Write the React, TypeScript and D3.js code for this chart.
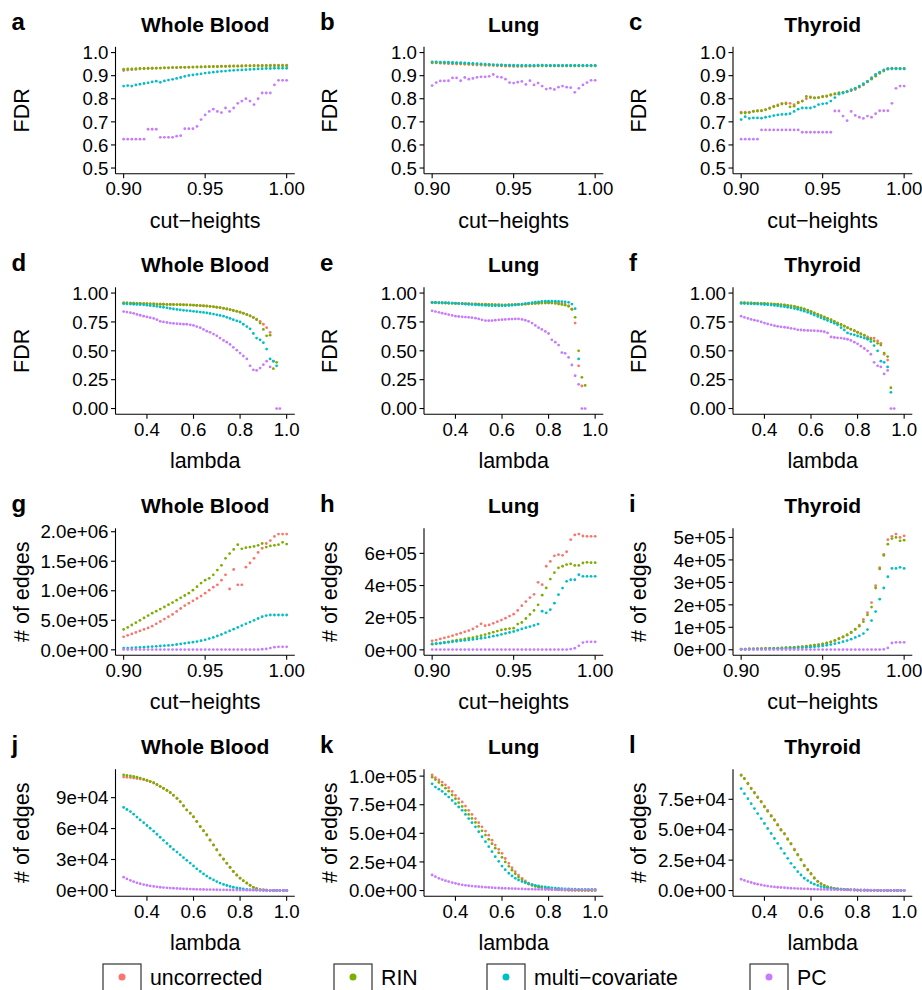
import React from "react";
import * as d3 from "d3";

// x grids
const cutHeights = [0.9, 0.9025, 0.905, 0.9075, 0.91, 0.9125, 0.915, 0.9175, 0.92, 0.9225, 0.925, 0.9275, 0.93, 0.9325, 0.935, 0.9375, 0.94, 0.9425, 0.945, 0.9475, 0.95, 0.9525, 0.955, 0.9575, 0.96, 0.9625, 0.965, 0.9675, 0.97, 0.9725, 0.975, 0.9775, 0.98, 0.9825, 0.985, 0.9875, 0.99, 0.9925, 0.995, 0.9975, 1.0];
const lambdas = [0.3, 0.314, 0.329, 0.343, 0.357, 0.371, 0.386, 0.4, 0.414, 0.429, 0.443, 0.457, 0.471, 0.486, 0.5, 0.514, 0.529, 0.543, 0.557, 0.571, 0.586, 0.6, 0.614, 0.629, 0.643, 0.657, 0.671, 0.686, 0.7, 0.714, 0.729, 0.743, 0.757, 0.771, 0.786, 0.8, 0.814, 0.829, 0.843, 0.857, 0.871, 0.886, 0.9, 0.914, 0.929, 0.943, 0.957, 0.971, 0.986, 1.0];

const methods = ["uncorrected", "RIN", "multi\u2212covariate", "PC"];
const colors = ["#F8766D", "#7CAE00", "#00BFC4", "#C77CFF"];
const tissues = ["Whole Blood", "Lung", "Thyroid"];

// FDR vs cut-heights
const aUnc = [0.922, 0.924, 0.926, 0.927, 0.929, 0.93, 0.931, 0.932, 0.932, 0.933, 0.934, 0.934, 0.935, 0.935, 0.936, 0.936, 0.937, 0.937, 0.938, 0.938, 0.939, 0.939, 0.94, 0.94, 0.941, 0.941, 0.942, 0.942, 0.942, 0.943, 0.943, 0.943, 0.944, 0.944, 0.944, 0.944, 0.945, 0.945, 0.945, 0.945, 0.945];
const aRin = [0.928, 0.929, 0.929, 0.93, 0.931, 0.931, 0.932, 0.932, 0.933, 0.933, 0.934, 0.934, 0.935, 0.935, 0.936, 0.936, 0.936, 0.937, 0.937, 0.938, 0.938, 0.939, 0.939, 0.939, 0.94, 0.94, 0.94, 0.941, 0.941, 0.941, 0.942, 0.942, 0.942, 0.942, 0.943, 0.943, 0.943, 0.943, 0.943, 0.943, 0.943];
const aMulti = [0.855, 0.857, 0.855, 0.86, 0.863, 0.866, 0.869, 0.873, 0.876, 0.871, 0.877, 0.881, 0.884, 0.888, 0.892, 0.897, 0.901, 0.903, 0.906, 0.908, 0.911, 0.913, 0.915, 0.917, 0.919, 0.92, 0.922, 0.923, 0.924, 0.925, 0.926, 0.927, 0.928, 0.929, 0.93, 0.931, 0.931, 0.932, 0.932, 0.932, 0.932];
const aPc = [0.625, 0.625, 0.625, 0.625, 0.625, 0.625, 0.668, 0.668, 0.668, 0.633, 0.633, 0.633, 0.633, 0.638, 0.64, 0.67, 0.67, 0.67, 0.68, 0.71, 0.73, 0.745, 0.755, 0.745, 0.74, 0.76, 0.745, 0.76, 0.78, 0.79, 0.8, 0.79, 0.775, 0.8, 0.825, 0.825, 0.825, 0.86, 0.88, 0.88, 0.88];

const bUnc = [0.955, 0.955, 0.954, 0.953, 0.952, 0.951, 0.95, 0.95, 0.949, 0.948, 0.947, 0.946, 0.946, 0.945, 0.945, 0.944, 0.943, 0.942, 0.941, 0.941, 0.94, 0.94, 0.94, 0.941, 0.941, 0.941, 0.942, 0.942, 0.942, 0.942, 0.942, 0.942, 0.942, 0.942, 0.942, 0.942, 0.942, 0.942, 0.942, 0.942, 0.942];
const bRin = [0.957, 0.957, 0.956, 0.956, 0.955, 0.955, 0.954, 0.953, 0.953, 0.952, 0.951, 0.95, 0.949, 0.948, 0.947, 0.946, 0.946, 0.945, 0.944, 0.944, 0.943, 0.943, 0.943, 0.943, 0.943, 0.943, 0.943, 0.943, 0.943, 0.943, 0.943, 0.943, 0.943, 0.943, 0.943, 0.943, 0.943, 0.943, 0.943, 0.943, 0.943];
const bMulti = [0.96, 0.96, 0.959, 0.958, 0.958, 0.957, 0.956, 0.956, 0.955, 0.954, 0.953, 0.952, 0.951, 0.95, 0.949, 0.948, 0.947, 0.947, 0.946, 0.945, 0.945, 0.944, 0.944, 0.944, 0.944, 0.944, 0.945, 0.946, 0.944, 0.944, 0.944, 0.944, 0.944, 0.944, 0.944, 0.944, 0.944, 0.944, 0.944, 0.944, 0.944];
const bPc = [0.857, 0.87, 0.877, 0.877, 0.878, 0.89, 0.89, 0.878, 0.892, 0.885, 0.888, 0.893, 0.895, 0.895, 0.897, 0.905, 0.895, 0.893, 0.885, 0.87, 0.868, 0.872, 0.875, 0.862, 0.878, 0.86, 0.868, 0.855, 0.842, 0.845, 0.84, 0.85, 0.855, 0.85, 0.848, 0.828, 0.845, 0.86, 0.87, 0.88, 0.88];

const cUnc = [0.742, 0.742, 0.742, 0.746, 0.748, 0.748, 0.752, 0.76, 0.768, 0.773, 0.78, 0.782, 0.78, 0.775, 0.785, 0.79, 0.8, 0.808, 0.805, 0.805, 0.808, 0.81, 0.815, 0.82, 0.825, 0.826, 0.83, 0.835, 0.84, 0.85, 0.86, 0.875, 0.89, 0.903, 0.913, 0.922, 0.93, 0.932, 0.932, 0.93, 0.93];
const cRin = [0.738, 0.738, 0.74, 0.745, 0.747, 0.748, 0.753, 0.758, 0.765, 0.77, 0.777, 0.778, 0.765, 0.768, 0.782, 0.79, 0.81, 0.805, 0.803, 0.805, 0.81, 0.812, 0.818, 0.822, 0.825, 0.828, 0.832, 0.838, 0.845, 0.852, 0.862, 0.873, 0.885, 0.898, 0.91, 0.92, 0.928, 0.93, 0.93, 0.93, 0.93];
const cMulti = [0.71, 0.722, 0.715, 0.717, 0.717, 0.716, 0.72, 0.723, 0.727, 0.73, 0.732, 0.733, 0.735, 0.745, 0.755, 0.76, 0.76, 0.76, 0.765, 0.775, 0.778, 0.78, 0.79, 0.805, 0.82, 0.825, 0.83, 0.838, 0.845, 0.855, 0.865, 0.875, 0.89, 0.905, 0.915, 0.925, 0.93, 0.93, 0.93, 0.93, 0.93];
const cPc = [0.625, 0.625, 0.625, 0.625, 0.625, 0.665, 0.665, 0.665, 0.665, 0.665, 0.665, 0.665, 0.665, 0.665, 0.665, 0.655, 0.655, 0.655, 0.655, 0.655, 0.655, 0.655, 0.655, 0.747, 0.747, 0.725, 0.705, 0.745, 0.728, 0.72, 0.715, 0.725, 0.72, 0.735, 0.748, 0.748, 0.748, 0.78, 0.845, 0.855, 0.855];

// FDR vs lambda (null = not defined)
const dUnc = [0.915, 0.914, 0.913, 0.912, 0.911, 0.91, 0.909, 0.908, 0.907, 0.906, 0.905, 0.904, 0.903, 0.902, 0.902, 0.901, 0.9, 0.9, 0.899, 0.898, 0.897, 0.896, 0.894, 0.892, 0.89, 0.888, 0.885, 0.882, 0.878, 0.874, 0.869, 0.863, 0.857, 0.85, 0.843, 0.835, 0.826, 0.815, 0.803, 0.79, 0.775, 0.755, 0.73, 0.7, 0.66, 0.41, null, null, null, null];
const dRin = [0.915, 0.914, 0.913, 0.912, 0.911, 0.91, 0.909, 0.908, 0.907, 0.906, 0.905, 0.904, 0.903, 0.902, 0.901, 0.9, 0.9, 0.899, 0.898, 0.897, 0.896, 0.895, 0.893, 0.891, 0.889, 0.887, 0.884, 0.881, 0.877, 0.873, 0.868, 0.862, 0.856, 0.849, 0.842, 0.834, 0.825, 0.814, 0.802, 0.788, 0.77, 0.74, 0.685, 0.63, 0.635, 0.345, 0.4, null, null, null];
const dMulti = [0.907, 0.906, 0.905, 0.903, 0.902, 0.9, 0.898, 0.895, 0.892, 0.889, 0.885, 0.881, 0.877, 0.872, 0.867, 0.862, 0.858, 0.855, 0.851, 0.848, 0.845, 0.842, 0.839, 0.835, 0.832, 0.828, 0.823, 0.818, 0.812, 0.806, 0.8, 0.79, 0.78, 0.77, 0.76, 0.75, 0.73, 0.71, 0.69, 0.65, 0.61, 0.595, 0.57, 0.515, 0.43, 0.41, 0.37, null, null, null];
const dPc = [0.84, 0.835, 0.83, 0.825, 0.815, 0.808, 0.8, 0.793, 0.787, 0.78, 0.77, 0.755, 0.75, 0.745, 0.74, 0.737, 0.735, 0.733, 0.731, 0.73, 0.725, 0.72, 0.71, 0.7, 0.685, 0.67, 0.66, 0.645, 0.63, 0.61, 0.59, 0.575, 0.555, 0.53, 0.505, 0.48, 0.455, 0.43, 0.37, 0.335, 0.33, 0.35, 0.38, 0.41, 0.36, null, 0, 0, null, null];

const eUnc = [0.918, 0.917, 0.916, 0.915, 0.915, 0.914, 0.913, 0.912, 0.911, 0.91, 0.909, 0.908, 0.907, 0.906, 0.905, 0.904, 0.903, 0.902, 0.901, 0.9, 0.899, 0.898, 0.898, 0.899, 0.9, 0.901, 0.902, 0.904, 0.906, 0.908, 0.91, 0.912, 0.914, 0.915, 0.916, 0.917, 0.917, 0.916, 0.914, 0.91, 0.905, 0.89, 0.86, 0.74, 0.37, 0.195, null, null, null, null];
const eRin = [0.917, 0.916, 0.915, 0.914, 0.913, 0.912, 0.911, 0.91, 0.909, 0.908, 0.907, 0.906, 0.905, 0.904, 0.903, 0.902, 0.901, 0.9, 0.899, 0.898, 0.897, 0.896, 0.896, 0.897, 0.898, 0.899, 0.9, 0.902, 0.904, 0.906, 0.908, 0.91, 0.912, 0.913, 0.914, 0.914, 0.913, 0.91, 0.905, 0.9, 0.895, 0.885, 0.86, 0.79, 0.5, 0.27, 0.2, null, null, null];
const eMulti = [0.92, 0.919, 0.918, 0.917, 0.916, 0.915, 0.913, 0.911, 0.909, 0.907, 0.905, 0.903, 0.901, 0.899, 0.897, 0.895, 0.893, 0.892, 0.891, 0.89, 0.89, 0.89, 0.891, 0.893, 0.895, 0.898, 0.901, 0.905, 0.909, 0.913, 0.917, 0.921, 0.924, 0.927, 0.929, 0.93, 0.93, 0.93, 0.928, 0.926, 0.924, 0.92, 0.905, 0.865, 0.43, null, null, null, null, null];
const ePc = [0.846, 0.84, 0.833, 0.826, 0.82, 0.813, 0.806, 0.8, 0.797, 0.794, 0.792, 0.79, 0.787, 0.783, 0.776, 0.768, 0.762, 0.761, 0.762, 0.765, 0.768, 0.77, 0.772, 0.774, 0.775, 0.776, 0.776, 0.772, 0.765, 0.755, 0.74, 0.72, 0.7, 0.685, 0.668, 0.65, 0.595, 0.575, 0.55, 0.485, 0.478, 0.443, 0.377, 0.284, 0.21, 0, 0, null, null, null];

const fUnc = [0.915, 0.914, 0.913, 0.912, 0.911, 0.91, 0.909, 0.908, 0.906, 0.905, 0.903, 0.901, 0.898, 0.895, 0.891, 0.887, 0.882, 0.876, 0.868, 0.86, 0.85, 0.838, 0.826, 0.814, 0.802, 0.79, 0.778, 0.766, 0.752, 0.738, 0.725, 0.712, 0.698, 0.685, 0.672, 0.658, 0.645, 0.632, 0.62, 0.61, 0.61, 0.585, 0.565, 0.47, 0.42, null, null, null, null, null];
const fRin = [0.917, 0.916, 0.915, 0.914, 0.913, 0.912, 0.911, 0.91, 0.909, 0.907, 0.905, 0.903, 0.9, 0.897, 0.893, 0.889, 0.884, 0.878, 0.871, 0.863, 0.853, 0.841, 0.829, 0.817, 0.805, 0.793, 0.781, 0.769, 0.755, 0.741, 0.728, 0.715, 0.701, 0.688, 0.675, 0.661, 0.648, 0.635, 0.61, 0.6, 0.585, 0.565, 0.55, 0.48, 0.45, 0.18, null, null, null, null];
const fMulti = [0.91, 0.909, 0.908, 0.907, 0.906, 0.905, 0.903, 0.901, 0.899, 0.896, 0.893, 0.89, 0.886, 0.882, 0.877, 0.872, 0.866, 0.86, 0.852, 0.843, 0.833, 0.822, 0.81, 0.798, 0.786, 0.774, 0.762, 0.75, 0.738, 0.725, 0.7, 0.68, 0.655, 0.645, 0.638, 0.628, 0.62, 0.61, 0.6, 0.58, 0.545, 0.5, 0.41, 0.4, 0.36, 0.14, null, null, null, null];
const fPc = [0.8, 0.79, 0.78, 0.772, 0.765, 0.76, 0.75, 0.74, 0.733, 0.725, 0.718, 0.712, 0.708, 0.704, 0.7, 0.695, 0.69, 0.682, 0.68, 0.678, 0.676, 0.675, 0.674, 0.672, 0.67, 0.665, 0.655, 0.62, 0.615, 0.612, 0.61, 0.605, 0.6, 0.59, 0.575, 0.56, 0.54, 0.52, 0.5, 0.47, 0.4, 0.37, 0.36, 0.3, 0.33, 0, 0, null, null, null];

// number of edges vs cut-heights (g in 1e6, h and i in 1e5)
const gUnc = [0.22, 0.245, 0.27, 0.295, 0.32, 0.345, 0.37, 0.4, 0.44, 0.48, 0.52, 0.56, 0.6, 0.65, 0.7, 0.75, 0.79, 0.83, 0.87, 0.91, 0.96, 1.01, 1.06, 1.1, 1.18, 1.27, 1.03, 1.36, 1.1, 1.1, 1.4, 1.47, 1.55, 1.65, 1.72, 1.8, 1.85, 1.92, 1.96, 1.96, 1.96];
const gRin = [0.345, 0.38, 0.42, 0.46, 0.5, 0.54, 0.58, 0.62, 0.655, 0.69, 0.725, 0.765, 0.8, 0.84, 0.88, 0.92, 0.96, 1.01, 1.07, 1.13, 1.18, 1.21, 1.27, 1.35, 1.43, 1.55, 1.63, 1.7, 1.78, 1.71, 1.73, 1.74, 1.75, 1.77, 1.8, 1.74, 1.76, 1.77, 1.78, 1.82, 1.79];
const gMulti = [0.03, 0.03, 0.032, 0.035, 0.04, 0.045, 0.05, 0.055, 0.06, 0.065, 0.07, 0.075, 0.08, 0.09, 0.1, 0.11, 0.12, 0.13, 0.14, 0.155, 0.17, 0.19, 0.21, 0.235, 0.26, 0.29, 0.32, 0.35, 0.38, 0.41, 0.44, 0.47, 0.5, 0.53, 0.56, 0.58, 0.59, 0.59, 0.59, 0.59, 0.59];
const gPc = [0.005, 0.005, 0.005, 0.005, 0.005, 0.005, 0.005, 0.005, 0.005, 0.005, 0.005, 0.005, 0.005, 0.005, 0.005, 0.005, 0.005, 0.005, 0.005, 0.005, 0.005, 0.005, 0.005, 0.005, 0.005, 0.005, 0.005, 0.005, 0.005, 0.005, 0.005, 0.005, 0.005, 0.005, 0.01, 0.015, 0.03, 0.045, 0.05, 0.05, 0.05];

const hUnc = [0.56, 0.61, 0.68, 0.74, 0.81, 0.88, 0.96, 1.04, 1.12, 1.2, 1.3, 1.45, 1.62, 1.5, 1.55, 1.65, 1.75, 1.85, 1.97, 2.1, 2.22, 2.45, 2.75, 3.0, 3.25, 3.45, 4.2, 4.05, 5.2, 5.5, 5.85, 5.92, 5.88, 6.1, 6.85, 7.15, 7.2, 7.08, 7.06, 7.06, 7.06];
const hRin = [0.35, 0.38, 0.42, 0.46, 0.5, 0.55, 0.6, 0.64, 0.68, 0.72, 0.76, 0.82, 0.88, 0.95, 1.02, 1.1, 1.17, 1.24, 1.28, 1.32, 1.35, 1.6, 1.7, 1.95, 2.2, 2.45, 2.8, 3.4, 3.85, 4.4, 4.8, 5.1, 5.2, 5.3, 5.35, 5.25, 5.25, 5.4, 5.44, 5.42, 5.42];
const hMulti = [0.37, 0.39, 0.41, 0.44, 0.47, 0.5, 0.53, 0.56, 0.59, 0.62, 0.65, 0.68, 0.72, 0.76, 0.8, 0.85, 0.9, 0.96, 1.02, 1.08, 1.14, 1.22, 1.3, 1.38, 1.45, 1.52, 1.6, 2.4, 2.3, 2.5, 2.9, 3.43, 3.84, 4.26, 4.36, 4.36, 4.67, 4.57, 4.57, 4.57, 4.57];
const hPc = [0.02, 0.02, 0.02, 0.02, 0.02, 0.02, 0.02, 0.02, 0.02, 0.02, 0.02, 0.02, 0.02, 0.02, 0.02, 0.02, 0.02, 0.02, 0.02, 0.02, 0.02, 0.02, 0.02, 0.02, 0.02, 0.02, 0.02, 0.02, 0.02, 0.02, 0.02, 0.02, 0.02, 0.02, 0.05, 0.1, 0.25, 0.45, 0.5, 0.5, 0.5];

const iUnc = [0.03, 0.03, 0.035, 0.04, 0.04, 0.045, 0.05, 0.055, 0.06, 0.065, 0.07, 0.08, 0.09, 0.1, 0.12, 0.13, 0.15, 0.17, 0.2, 0.22, 0.25, 0.29, 0.34, 0.4, 0.48, 0.56, 0.65, 0.76, 0.9, 1.1, 1.35, 1.65, 2.1, 2.85, 3.65, 4.25, 4.9, 5.05, 5.15, 5.0, 5.07];
const iRin = [0.03, 0.03, 0.035, 0.04, 0.045, 0.05, 0.055, 0.06, 0.065, 0.07, 0.08, 0.09, 0.1, 0.11, 0.13, 0.14, 0.16, 0.18, 0.21, 0.23, 0.26, 0.3, 0.35, 0.42, 0.5, 0.58, 0.67, 0.78, 0.92, 1.05, 1.25, 1.55, 1.9, 2.75, 3.6, 4.2, 4.7, 4.95, 5.0, 4.85, 4.88];
const iMulti = [0.02, 0.02, 0.025, 0.025, 0.03, 0.03, 0.035, 0.04, 0.04, 0.045, 0.05, 0.055, 0.06, 0.07, 0.08, 0.09, 0.1, 0.115, 0.13, 0.15, 0.17, 0.2, 0.23, 0.27, 0.31, 0.36, 0.41, 0.47, 0.55, 0.62, 0.72, 0.9, 1.3, 1.7, 2.25, 2.75, 3.25, 3.62, 3.62, 3.67, 3.62];
const iPc = [0.01, 0.01, 0.01, 0.01, 0.01, 0.01, 0.01, 0.01, 0.01, 0.01, 0.01, 0.01, 0.01, 0.01, 0.01, 0.01, 0.01, 0.01, 0.01, 0.01, 0.01, 0.01, 0.01, 0.01, 0.01, 0.01, 0.01, 0.01, 0.01, 0.01, 0.01, 0.01, 0.01, 0.01, 0.01, 0.02, 0.08, 0.3, 0.33, 0.33, 0.33];

// number of edges vs lambda (in 1e4)
const jUnc = [11.0, 10.98, 10.95, 10.9, 10.85, 10.8, 10.74, 10.65, 10.54, 10.42, 10.25, 10.07, 9.89, 9.69, 9.47, 9.22, 8.92, 8.59, 8.19, 7.79, 7.47, 7.12, 6.67, 6.17, 5.77, 5.37, 4.87, 4.39, 3.92, 3.42, 3.02, 2.62, 2.22, 1.82, 1.47, 1.18, 0.93, 0.7, 0.49, 0.29, 0.17, 0.08, 0.04, 0.02, 0.01, 0, 0, 0, 0, 0];
const jRin = [11.2, 11.15, 11.1, 11.05, 10.98, 10.9, 10.8, 10.7, 10.58, 10.45, 10.28, 10.1, 9.92, 9.72, 9.5, 9.25, 8.95, 8.62, 8.22, 7.82, 7.5, 7.15, 6.7, 6.2, 5.8, 5.4, 4.9, 4.42, 3.95, 3.45, 3.05, 2.65, 2.25, 1.85, 1.5, 1.2, 0.95, 0.72, 0.5, 0.3, 0.18, 0.08, 0.04, 0.02, 0.01, 0, 0, 0, 0, 0];
const jMulti = [8.05, 7.85, 7.65, 7.4, 7.12, 6.84, 6.57, 6.3, 6.03, 5.75, 5.45, 5.16, 4.86, 4.56, 4.26, 3.98, 3.72, 3.45, 3.18, 2.92, 2.65, 2.38, 2.1, 1.84, 1.6, 1.39, 1.19, 1.02, 0.86, 0.71, 0.58, 0.48, 0.39, 0.31, 0.24, 0.19, 0.14, 0.1, 0.07, 0.05, 0.03, 0.02, 0.01, 0, 0, 0, 0, 0, 0, 0];
const jPc = [1.29, 1.12, 0.97, 0.85, 0.74, 0.65, 0.57, 0.5, 0.44, 0.39, 0.35, 0.31, 0.28, 0.25, 0.23, 0.21, 0.19, 0.17, 0.16, 0.14, 0.13, 0.12, 0.11, 0.1, 0.09, 0.085, 0.08, 0.07, 0.065, 0.06, 0.055, 0.05, 0.045, 0.04, 0.035, 0.03, 0.03, 0.025, 0.025, 0.02, 0.02, 0.02, 0.015, 0.015, 0.01, 0.01, 0.01, 0.01, 0.01, 0.01];

const kUnc = [10.1, 9.86, 9.67, 9.48, 9.24, 8.99, 8.66, 8.32, 8.03, 7.74, 7.38, 7.01, 6.65, 6.29, 5.93, 5.57, 5.2, 4.84, 4.4, 3.97, 3.6, 3.25, 2.8, 2.38, 2.0, 1.65, 1.35, 1.07, 0.84, 0.64, 0.52, 0.41, 0.33, 0.26, 0.2, 0.16, 0.13, 0.1, 0.08, 0.06, 0.05, 0.04, 0.03, 0.03, 0.02, 0.02, 0.02, 0.01, 0.01, 0.01];
const kRin = [9.91, 9.7, 9.45, 9.2, 8.95, 8.68, 8.35, 8.02, 7.68, 7.35, 7.0, 6.65, 6.3, 5.95, 5.6, 5.22, 4.85, 4.48, 4.1, 3.7, 3.3, 2.9, 2.5, 2.12, 1.78, 1.46, 1.18, 0.94, 0.74, 0.57, 0.45, 0.36, 0.28, 0.22, 0.17, 0.13, 0.1, 0.08, 0.06, 0.05, 0.04, 0.03, 0.03, 0.02, 0.02, 0.02, 0.01, 0.01, 0.01, 0.01];
const kMulti = [9.33, 9.04, 8.86, 8.67, 8.42, 8.17, 7.88, 7.59, 7.3, 7.01, 6.65, 6.29, 5.93, 5.57, 5.14, 4.7, 4.27, 3.83, 3.4, 2.96, 2.55, 2.14, 1.82, 1.51, 1.28, 1.07, 0.92, 0.78, 0.68, 0.59, 0.52, 0.45, 0.4, 0.35, 0.31, 0.27, 0.24, 0.21, 0.19, 0.17, 0.15, 0.14, 0.13, 0.12, 0.11, 0.1, 0.1, 0.09, 0.09, 0.09];
const kPc = [1.36, 1.21, 1.07, 0.96, 0.86, 0.78, 0.7, 0.63, 0.56, 0.5, 0.46, 0.42, 0.39, 0.36, 0.34, 0.31, 0.29, 0.27, 0.25, 0.23, 0.22, 0.2, 0.19, 0.18, 0.17, 0.16, 0.15, 0.14, 0.13, 0.12, 0.12, 0.11, 0.1, 0.1, 0.09, 0.09, 0.08, 0.08, 0.08, 0.07, 0.07, 0.07, 0.07, 0.06, 0.06, 0.06, 0.06, 0.06, 0.06, 0.06];

const lUnc = [9.5, 9.22, 8.82, 8.42, 8.06, 7.7, 7.33, 6.93, 6.58, 6.17, 5.83, 5.43, 5.02, 4.7, 4.26, 3.88, 3.4, 2.98, 2.57, 2.08, 1.74, 1.4, 1.05, 0.77, 0.57, 0.43, 0.31, 0.23, 0.17, 0.13, 0.11, 0.09, 0.07, 0.06, 0.05, 0.04, 0.03, 0.03, 0.02, 0.02, 0.02, 0.01, 0.01, 0.01, 0.01, 0.01, 0.01, 0.01, 0.01, 0.01];
const lRin = [9.46, 9.19, 8.78, 8.37, 8.02, 7.64, 7.28, 6.87, 6.52, 6.11, 5.78, 5.37, 4.96, 4.64, 4.2, 3.82, 3.33, 2.92, 2.51, 2.02, 1.69, 1.36, 1.01, 0.74, 0.55, 0.41, 0.3, 0.22, 0.16, 0.13, 0.11, 0.09, 0.07, 0.06, 0.05, 0.04, 0.03, 0.03, 0.02, 0.02, 0.02, 0.01, 0.01, 0.01, 0.01, 0.01, 0.01, 0.01, 0.01, 0.01];
const lMulti = [8.37, 7.96, 7.55, 7.14, 6.74, 6.33, 5.92, 5.51, 5.1, 4.69, 4.28, 3.87, 3.46, 3.05, 2.65, 2.24, 1.91, 1.55, 1.28, 1.01, 0.82, 0.65, 0.52, 0.42, 0.33, 0.26, 0.21, 0.17, 0.14, 0.11, 0.09, 0.08, 0.07, 0.06, 0.05, 0.04, 0.04, 0.03, 0.03, 0.02, 0.02, 0.02, 0.02, 0.01, 0.01, 0.01, 0.01, 0.01, 0.01, 0.01];
const lPc = [0.93, 0.83, 0.74, 0.66, 0.58, 0.52, 0.46, 0.41, 0.37, 0.33, 0.3, 0.27, 0.25, 0.23, 0.21, 0.19, 0.18, 0.16, 0.15, 0.14, 0.13, 0.12, 0.11, 0.1, 0.09, 0.09, 0.08, 0.07, 0.07, 0.06, 0.06, 0.05, 0.05, 0.05, 0.04, 0.04, 0.04, 0.03, 0.03, 0.03, 0.03, 0.02, 0.02, 0.02, 0.02, 0.02, 0.02, 0.02, 0.02, 0.02];

// tick labels
const fdrCutTicks = [0.5, 0.6, 0.7, 0.8, 0.9, 1.0];
const fdrCutLabels = ["0.5", "0.6", "0.7", "0.8", "0.9", "1.0"];
const fdrLamTicks = [0, 0.25, 0.5, 0.75, 1.0];
const fdrLamLabels = ["0.00", "0.25", "0.50", "0.75", "1.00"];
const cutTicks = [0.9, 0.95, 1.0];
const cutLabels = ["0.90", "0.95", "1.00"];
const lamTicks = [0.4, 0.6, 0.8, 1.0];
const lamLabels = ["0.4", "0.6", "0.8", "1.0"];
const gTicks = [0, 5e5, 1e6, 1.5e6, 2e6];
const gLabels = ["0.0e+00", "5.0e+05", "1.0e+06", "1.5e+06", "2.0e+06"];
const hTicks = [0, 2e5, 4e5, 6e5];
const hLabels = ["0e+00", "2e+05", "4e+05", "6e+05"];
const iTicks = [0, 1e5, 2e5, 3e5, 4e5, 5e5];
const iLabels = ["0e+00", "1e+05", "2e+05", "3e+05", "4e+05", "5e+05"];
const jTicks = [0, 3e4, 6e4, 9e4];
const jLabels = ["0e+00", "3e+04", "6e+04", "9e+04"];
const kTicks = [0, 2.5e4, 5e4, 7.5e4, 1e5];
const kLabels = ["0.0e+00", "2.5e+04", "5.0e+04", "7.5e+04", "1.0e+05"];
const lTicks = [0, 2.5e4, 5e4, 7.5e4];
const lLabels = ["0.0e+00", "2.5e+04", "5.0e+04", "7.5e+04"];

const FONT = "'Liberation Sans', Arial, Helvetica, sans-serif";
const colLeft = [115.5, 424, 733];
const rowTop = [46.8, 287.3, 528.3, 769.2];
const PW = 179.3;
const PH = 127;

type PanelDef = {
  letter: string;
  row: number;
  col: number;
  xs: number[];
  xTicks: number[];
  xLabels: string[];
  xTitle: string;
  yTitle: string;
  series: (number | null)[][];
  unit: number;
  yFixed?: [number, number];
  yTicks: number[];
  yLabels: string[];
};

const cutRow = { xs: cutHeights, xTicks: cutTicks, xLabels: cutLabels, xTitle: "cut\u2212heights" };
const lamRow = { xs: lambdas, xTicks: lamTicks, xLabels: lamLabels, xTitle: "lambda" };

const panels: PanelDef[] = [
  { letter: "a", row: 0, col: 0, ...cutRow, yTitle: "FDR", series: [aUnc, aRin, aMulti, aPc], unit: 1, yFixed: [0.5, 1], yTicks: fdrCutTicks, yLabels: fdrCutLabels },
  { letter: "b", row: 0, col: 1, ...cutRow, yTitle: "FDR", series: [bUnc, bRin, bMulti, bPc], unit: 1, yFixed: [0.5, 1], yTicks: fdrCutTicks, yLabels: fdrCutLabels },
  { letter: "c", row: 0, col: 2, ...cutRow, yTitle: "FDR", series: [cUnc, cRin, cMulti, cPc], unit: 1, yFixed: [0.5, 1], yTicks: fdrCutTicks, yLabels: fdrCutLabels },
  { letter: "d", row: 1, col: 0, ...lamRow, yTitle: "FDR", series: [dUnc, dRin, dMulti, dPc], unit: 1, yFixed: [0, 1], yTicks: fdrLamTicks, yLabels: fdrLamLabels },
  { letter: "e", row: 1, col: 1, ...lamRow, yTitle: "FDR", series: [eUnc, eRin, eMulti, ePc], unit: 1, yFixed: [0, 1], yTicks: fdrLamTicks, yLabels: fdrLamLabels },
  { letter: "f", row: 1, col: 2, ...lamRow, yTitle: "FDR", series: [fUnc, fRin, fMulti, fPc], unit: 1, yFixed: [0, 1], yTicks: fdrLamTicks, yLabels: fdrLamLabels },
  { letter: "g", row: 2, col: 0, ...cutRow, yTitle: "# of edges", series: [gUnc, gRin, gMulti, gPc], unit: 1e6, yTicks: gTicks, yLabels: gLabels },
  { letter: "h", row: 2, col: 1, ...cutRow, yTitle: "# of edges", series: [hUnc, hRin, hMulti, hPc], unit: 1e5, yTicks: hTicks, yLabels: hLabels },
  { letter: "i", row: 2, col: 2, ...cutRow, yTitle: "# of edges", series: [iUnc, iRin, iMulti, iPc], unit: 1e5, yTicks: iTicks, yLabels: iLabels },
  { letter: "j", row: 3, col: 0, ...lamRow, yTitle: "# of edges", series: [jUnc, jRin, jMulti, jPc], unit: 1e4, yTicks: jTicks, yLabels: jLabels },
  { letter: "k", row: 3, col: 1, ...lamRow, yTitle: "# of edges", series: [kUnc, kRin, kMulti, kPc], unit: 1e4, yTicks: kTicks, yLabels: kLabels },
  { letter: "l", row: 3, col: 2, ...lamRow, yTitle: "# of edges", series: [lUnc, lRin, lMulti, lPc], unit: 1e4, yTicks: lTicks, yLabels: lLabels },
];

function expand([lo, hi]: [number, number]): [number, number] {
  const pad = (hi - lo) * 0.05;
  return [lo - pad, hi + pad];
}

function Panel({ p }: { p: PanelDef }) {
  const left = colLeft[p.col];
  const top = rowTop[p.row];
  const bottom = top + PH;
  const right = left + PW;
  const values = p.series.flat().filter((v): v is number => v != null).map((v) => v * p.unit);
  const yDom = p.yFixed ?? (d3.extent(values) as [number, number]);
  const x = d3.scaleLinear().domain(expand([p.xs[0], p.xs[p.xs.length - 1]])).range([left, right]);
  const y = d3.scaleLinear().domain(expand(yDom)).range([bottom, top]);
  const cx = (left + right) / 2;
  const cy = (top + bottom) / 2;

  return (
    <g>
      <text x={left - 104} y={top - 16.5} fontSize={24} fontWeight="bold">{p.letter}</text>
      <text x={cx} y={top - 15} fontSize={21} fontWeight="bold" textAnchor="middle">{tissues[p.col]}</text>
      {p.series.map((s, si) => (
        <g key={si} fill={colors[si]}>
          {s.map((v, i) => v == null ? null : (
            <circle key={i} cx={x(p.xs[i])} cy={y(v * p.unit)} r={1.4} />
          ))}
        </g>
      ))}
      <line x1={left} x2={left} y1={top} y2={bottom} stroke="#000" strokeWidth={1.1} />
      <line x1={left} x2={right} y1={bottom} y2={bottom} stroke="#000" strokeWidth={1.1} />
      {p.yTicks.map((t, i) => (
        <g key={i}>
          <line x1={left - 4.5} x2={left} y1={y(t)} y2={y(t)} stroke="#000" strokeWidth={1.1} />
          <text x={left - 7} y={y(t)} dy="0.36em" fontSize={18.7} textAnchor="end">{p.yLabels[i]}</text>
        </g>
      ))}
      {p.xTicks.map((t, i) => (
        <g key={i}>
          <line x1={x(t)} x2={x(t)} y1={bottom} y2={bottom + 4.5} stroke="#000" strokeWidth={1.1} />
          <text x={x(t)} y={bottom + 21.5} fontSize={18.7} textAnchor="middle">{p.xLabels[i]}</text>
        </g>
      ))}
      <text x={cx} y={bottom + 54} fontSize={21.5} textAnchor="middle">{p.xTitle}</text>
      <text transform={`translate(${left - 87},${cy}) rotate(-90)`} fontSize={21.5} textAnchor="middle">{p.yTitle}</text>
    </g>
  );
}

const legendBoxX = [103, 334, 487, 750];

export default function App() {
  return (
    <svg width={922} height={990} style={{ position: "absolute", left: 0, top: 0, background: "#fff" }} fontFamily={FONT}>
      <rect width={922} height={990} fill="#fff" />
      {panels.map((p) => <Panel key={p.letter} p={p} />)}
      {methods.map((m, i) => (
        <g key={m}>
          <rect x={legendBoxX[i]} y={964} width={38} height={34} fill="#fff" stroke="#333" strokeWidth={1.2} />
          <circle cx={legendBoxX[i] + 19} cy={977} r={3.5} fill={colors[i]} />
          <text x={legendBoxX[i] + 47} y={984.5} fontSize={21.3}>{m}</text>
        </g>
      ))}
    </svg>
  );
}
